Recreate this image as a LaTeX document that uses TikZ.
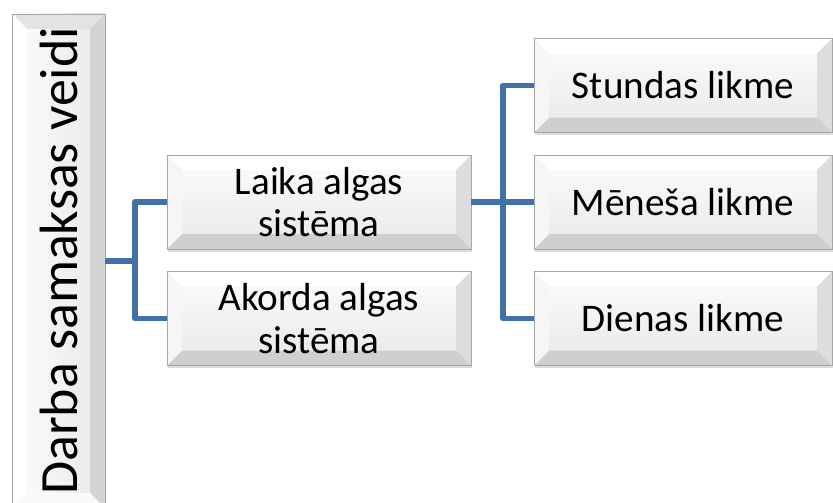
\documentclass[tikz,border=0pt]{standalone}
\usepackage{fontspec}
\setmainfont{Carlito}
\usepackage{graphicx}
\usetikzlibrary{shadows}
\definecolor{connc}{HTML}{4171A7}
\def\bv{0.45cm}
\tikzset{
  bevbox/.style n args={4}{rectangle, draw=gray!70, line width=0.6pt, inner sep=0pt, align=center,
    drop shadow={shadow xshift=1.2pt, shadow yshift=-2.2pt, opacity=0.35, fill=gray!80},
    path picture={
      \coordinate (pnw) at (path picture bounding box.north west);
      \coordinate (pne) at (path picture bounding box.north east);
      \coordinate (psw) at (path picture bounding box.south west);
      \coordinate (pse) at (path picture bounding box.south east);
      \fill[#1] (pnw) -- (pne) -- ([shift={(-\bv,-\bv)}]pne) -- ([shift={(\bv,-\bv)}]pnw) -- cycle;
      \fill[#2] (pne) -- (pse) -- ([shift={(-\bv,\bv)}]pse) -- ([shift={(-\bv,-\bv)}]pne) -- cycle;
      \fill[#3] (pse) -- (psw) -- ([shift={(\bv,\bv)}]psw) -- ([shift={(-\bv,\bv)}]pse) -- cycle;
      \fill[#4] (psw) -- (pnw) -- ([shift={(\bv,-\bv)}]pnw) -- ([shift={(\bv,\bv)}]psw) -- cycle;
    }},
  hbox/.style={bevbox={white}{gray!27}{gray!38}{gray!7}, top color=gray!2, bottom color=gray!18,
    minimum height=2.82cm, font=\fontsize{33.4}{36.6}\selectfont},
  midbox/.style={hbox, minimum width=9.12cm},
  rightbox/.style={hbox, minimum width=8.94cm},
  rootbox/.style={bevbox={gray!22}{gray!34}{gray!5}{white}, left color=gray!2, right color=gray!18,
    minimum width=2.79cm, minimum height=14.82cm, font=\fontsize{46}{50}\selectfont},
  connline/.style={draw=connc, line width=4.8pt, line join=round}
}
\begin{document}
\begin{tikzpicture}[x=0.03cm,y=-0.03cm]
\useasboundingbox (0,0) rectangle (833,503);
\clip (0,0) rectangle (833,503);
\node[rootbox] (root) at (58.5,261) {\rotatebox{90}{Darba samaksas veidi}};
\node[midbox] (laika) at (319,202) {Laika algas\\sistēma};
\node[midbox] (akorda) at (319,318.5) {Akorda algas\\sistēma};
\node[rightbox] (stundas) at (683,85.5) {Stundas likme};
\node[rightbox] (meneса) at (683,202) {Mēneša likme};
\node[rightbox] (dienas) at (683,318.5) {Dienas likme};
\coordinate (j1) at (135,261);
\coordinate (j2) at (503,202);
\draw[connline] (root.east) -- (j1);
\draw[connline] (j1) |- (laika.west);
\draw[connline] (j1) |- (akorda.west);
\draw[connline] (laika.east) -- (j2);
\draw[connline] (j2) |- (stundas.west);
\draw[connline] (j2) |- (meneса.west);
\draw[connline] (j2) |- (dienas.west);
\end{tikzpicture}
\end{document}
